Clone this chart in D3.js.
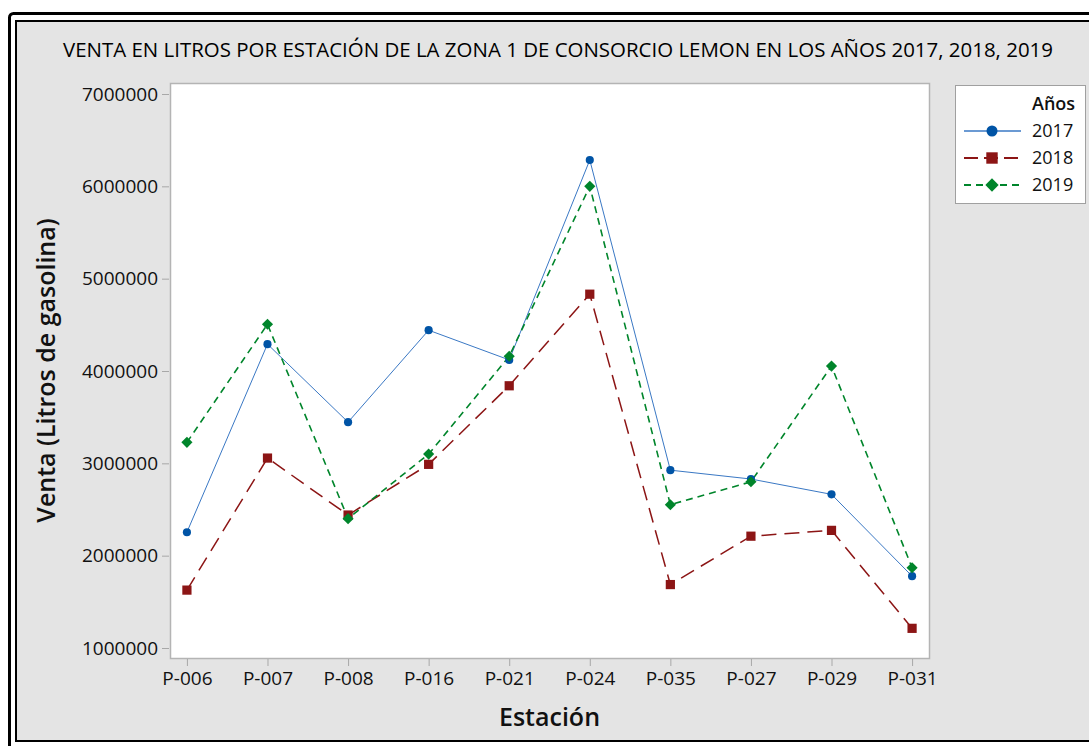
<!DOCTYPE html>
<html lang="es">

<head>
    <meta charset="UTF-8">
    <title>Venta en litros por estación</title>
    <style>
        body { margin: 0; background: #fff; }
        text { font-family: 'Open Sans', 'Noto Sans', sans-serif; fill: #111; }
    </style>
</head>

<body>
    <svg id='chart'></svg>

    <script src="https://d3js.org/d3.v7.min.js"></script>
    <script>
        // datos
        const estaciones = ['P-006', 'P-007', 'P-008', 'P-016', 'P-021', 'P-024', 'P-035', 'P-027', 'P-029', 'P-031'];
        const venta2017 = [2254000, 4291000, 3446000, 4442000, 4120000, 6285000, 2926000, 2830000, 2664000, 1778000];
        const venta2018 = [1627000, 3057000, 2440000, 2989000, 3840000, 4832000, 1687000, 2211000, 2274000, 1213000];
        const venta2019 = [3227000, 4506000, 2401000, 3100000, 4160000, 6000000, 2552000, 2800000, 4053000, 1869000];
        const anios = ['2017', '2018', '2019'];
        const yTicks = [1000000, 2000000, 3000000, 4000000, 5000000, 6000000, 7000000];

        const titulo = 'VENTA EN LITROS POR ESTACIÓN DE LA ZONA 1 DE CONSORCIO LEMON EN LOS AÑOS 2017, 2018, 2019';

        window.addEventListener('DOMContentLoaded', () => {
            const W = 1089, H = 746;
            const svg = d3.select('#chart').attr('width', W).attr('height', H);

            // marco doble
            svg.append('rect').attr('x', 9.5).attr('y', 13.5).attr('width', 1100).attr('height', 750)
                .attr('rx', 4).attr('fill', '#fff').attr('stroke', '#000').attr('stroke-width', 3);
            svg.append('rect').attr('x', 16).attr('y', 21).attr('width', 1100).attr('height', 720)
                .attr('fill', '#e4e4e4').attr('stroke', '#000').attr('stroke-width', 2);

            const plot = { left: 170, right: 929, top: 83, bottom: 658 };

            svg.append('text').attr('x', 63).attr('y', 57)
                .attr('textLength', 990).attr('lengthAdjust', 'spacingAndGlyphs')
                .style('font-size', '19.5px').style('fill', '#000').text(titulo);

            svg.append('rect').attr('x', plot.left + 0.5).attr('y', plot.top + 0.5)
                .attr('width', plot.right - plot.left).attr('height', plot.bottom - plot.top)
                .attr('fill', '#fff').attr('stroke', '#b4b4b4').attr('stroke-width', 1.5);

            const x = d3.scalePoint().domain(estaciones).range([plot.left, plot.right]).padding(0.21);
            const y = d3.scaleLinear().domain([1000000, 7000000]).range([648, 94]);

            // ejes
            const yAxis = d3.axisLeft(y).tickValues(yTicks).tickFormat(d3.format('d')).tickSize(7).tickPadding(4);
            const gy = svg.append('g').attr('transform', `translate(${plot.left - 1},0)`).call(yAxis);
            const xAxis = d3.axisBottom(x).tickSize(7).tickPadding(6);
            const gx = svg.append('g').attr('transform', `translate(0,${plot.bottom + 1})`).call(xAxis);
            [gx, gy].forEach(g => {
                g.select('.domain').remove();
                g.selectAll('.tick line').attr('stroke', '#a8a8a8');
                g.selectAll('.tick text').style('font-size', '19px').attr('fill', '#000')
                    .style('font-weight', 500)
                    .style('font-family', "'Open Sans', sans-serif");
            });

            svg.append('text').attr('x', (plot.left + plot.right) / 2).attr('y', 726).attr('text-anchor', 'middle')
                .style('font-size', '25px').style('font-weight', 600).text('Estación');
            svg.append('text').attr('transform', `translate(55,${(plot.top + plot.bottom) / 2}) rotate(-90)`)
                .attr('text-anchor', 'middle').style('font-size', '25px').style('font-weight', 600)
                .text('Venta (Litros de gasolina)');

            // series
            const series = [
                { name: anios[0], values: venta2017, color: '#0054a6', line: '#3a78c4', width: 1, dash: null, symbol: d3.symbolCircle, size: 52, rot: 0, lsize: 95 },
                { name: anios[1], values: venta2018, color: '#8c1515', line: '#8c1515', width: 1.5, dash: '15,8', symbol: d3.symbolSquare, size: 85, rot: 0, lsize: 130 },
                { name: anios[2], values: venta2019, color: '#00852b', line: '#00852b', width: 1.6, dash: '7,5', symbol: d3.symbolSquare, size: 62, rot: 45, lsize: 88 },
            ];

            const line = d3.line().x((d, i) => x(estaciones[i])).y(d => y(d));

            series.forEach(s => {
                svg.append('path').datum(s.values).attr('d', line).attr('fill', 'none')
                    .attr('stroke', s.line).attr('stroke-width', s.width)
                    .attr('stroke-dasharray', s.dash);
            });
            series.forEach(s => {
                svg.append('g').selectAll('path').data(s.values).join('path')
                    .attr('d', d3.symbol().type(s.symbol).size(s.size))
                    .attr('fill', s.color)
                    .attr('transform', (d, i) => `translate(${x(estaciones[i])},${y(d)}) rotate(${s.rot})`);
            });

            // leyenda
            const lg = svg.append('g');
            lg.append('rect').attr('x', 955.5).attr('y', 85.5).attr('width', 130).attr('height', 118)
                .attr('fill', '#fff').attr('stroke', '#a0a0a0');
            lg.append('text').attr('x', 1032).attr('y', 110).style('font-size', '18px').style('font-weight', 600).text('Años');
            series.forEach((s, i) => {
                const ly = 131 + i * 27;
                lg.append('line').attr('x1', 964).attr('x2', 1021).attr('y1', ly).attr('y2', ly)
                    .attr('stroke', s.line).attr('stroke-width', s.width + 0.3).attr('stroke-dasharray', s.dash ? (i === 1 ? '14,6' : '7,5') : null);
                lg.append('path').attr('d', d3.symbol().type(s.symbol).size(s.lsize)())
                    .attr('fill', s.color).attr('transform', `translate(992,${ly}) rotate(${s.rot})`);
                lg.append('text').attr('x', 1032).attr('y', ly + 6).style('font-size', '18px').text(s.name);
            });
        });
    </script>
</body>

</html>
